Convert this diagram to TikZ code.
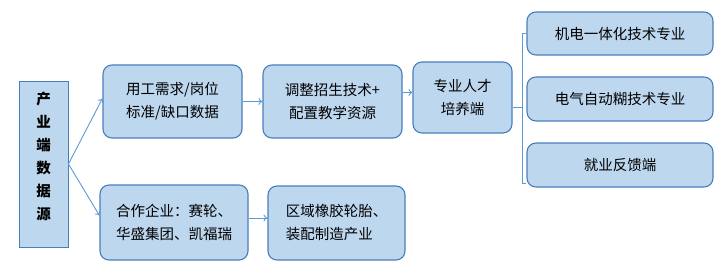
\documentclass[tikz,border=0pt]{standalone}
\usepackage{fontspec}
\setmainfont{Noto Sans CJK SC}
\usepackage{xcolor}
\usetikzlibrary{arrows.meta, positioning, calc}
\definecolor{boxfill}{HTML}{BDD7EE}
\definecolor{boxline}{HTML}{4A7EBB}
\definecolor{arrline}{HTML}{5B9BD5}
\begin{document}
\begin{tikzpicture}[
			x=1pt, y=-1pt,
			box/.style={draw=boxline, fill=boxfill, line width=1.1pt, rounded corners=9pt, align=center, inner sep=2pt, font=\fontsize{14.5}{23}\selectfont},
			srcbox/.style={draw=boxline, fill=boxfill, line width=0.9pt, align=center, font=\fontsize{14.5}{23}\selectfont\bfseries},
			arr/.style={draw=arrline, line width=0.9pt, -{To[length=4pt, width=7pt]}},
			link/.style={draw=arrline, line width=1pt}
			]
			\useasboundingbox (0,0) rectangle (723,270);
			% source column
			\node[srcbox, minimum width=49pt, minimum height=166pt] (src) at (43.5,164) {产\\业\\端\\数\\据\\源\\[-7pt]\mbox{}};
			% upper chain
			\node[box, minimum width=139pt, minimum height=73pt] (demand) at (172.5,101.5) {用工需求/岗位\\标准/缺口数据};
			\node[box, minimum width=139pt, minimum height=73pt] (adjust) at (332.5,101.5) {调整招生技术+\\配置教学资源};
			\node[box, minimum width=99pt, minimum height=71pt] (talent) at (462.5,97.5) {专业人才\\培养端};
			% majors
			\node[box, minimum width=186pt, minimum height=43pt] (mech) at (620,33.5) {机电一体化技术专业};
			\node[box, minimum width=186pt, minimum height=44pt] (elec) at (620,99) {电气自动糊技术专业};
			\node[box, minimum width=186pt, minimum height=44pt] (job) at (620,165) {就业反馈端};
			% lower chain
			\node[box, minimum width=148pt, minimum height=75pt] (coop) at (174,222.5) {合作企业：赛轮、\\华盛集团、凯福瑞};
			\node[box, minimum width=137pt, minimum height=74pt, align=left] (region) at (336.5,223) {区域橡胶轮胎、\\装配制造产业};
			% connectors
			\draw[arr] (src.east) -- ([yshift=3pt]demand.west);
			\draw[arr] (src.east) -- ([yshift=7pt]coop.west);
			\draw[arr] (demand.east) -- (adjust.west);
			\draw[arr] ([yshift=9pt]adjust.east) -- ([yshift=9pt]adjust.east -| talent.west);
			\draw[arr] ([yshift=4.5pt]coop.east) -- ([yshift=4.5pt]coop.east -| region.west);
			% bracket
			\coordinate (brk) at ([xshift=10pt,yshift=-10pt]talent.east);
			\draw[link, line width=1.6pt] ([yshift=-10pt]talent.east) -- (brk);
			\draw[link] (mech.west) -- (mech.west -| brk) -- ([yshift=4pt]job.south west -| brk) -- ([yshift=4pt]job.south west);
		\end{tikzpicture}
\end{document}
